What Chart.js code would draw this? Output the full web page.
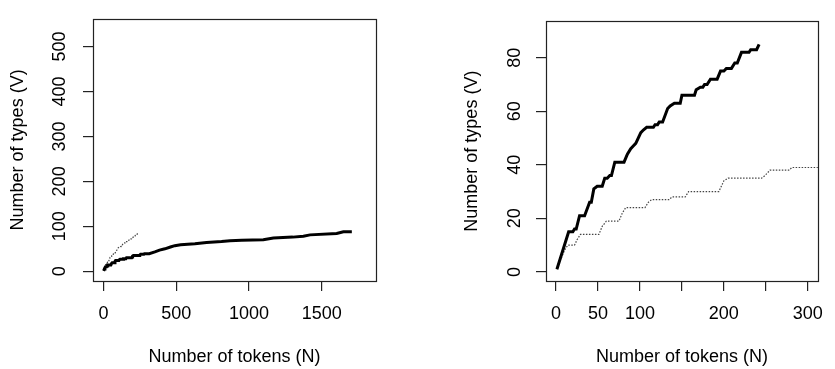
<!DOCTYPE html>
<html>
<head>
<meta charset="utf-8">
<script src="https://cdn.jsdelivr.net/npm/chart.js@4/dist/chart.umd.min.js"></script>
<style>
  html, body { margin: 0; padding: 0; background: #fff; }
  #wrap { position: relative; width: 835px; height: 369px; overflow: hidden; }
  .panel { position: absolute; top: 0; height: 369px; }
</style>
</head>
<body>
<div id="wrap">
  <div class="panel" style="left:0;width:417px"><canvas id="left" width="417" height="369"></canvas></div>
  <div class="panel" style="left:417px;width:418px"><canvas id="right" width="418" height="369"></canvas></div>
</div>
<script>
// ---- Data: type-token growth curves ----
// Text A (long text, ~1700 tokens)
const aTokens = [1, 6, 10, 14, 22, 25, 29, 51, 55, 60, 75, 79, 83, 106, 110, 114, 135, 138, 154, 158, 194, 197, 200, 205, 245, 249, 255, 278, 281, 314, 353, 385, 422, 460, 490, 530, 628, 708, 811, 869, 949, 1098, 1167, 1300, 1373, 1419, 1602, 1648, 1706];
const aTypes  = [1, 5, 8, 10, 10, 12, 14, 14, 17, 19, 19, 22, 24, 24, 26, 27, 27, 28, 28, 30, 30, 32, 34, 35, 35, 36, 38, 38, 39, 39, 43, 47, 50, 54, 57, 59, 61, 64, 66, 68, 69, 70, 74, 76, 78, 81, 84, 88, 88];
// Text B (short text, ~242 tokens)
const bTokens = [1, 15, 20, 22, 24, 28, 34, 40, 42, 45, 49, 55, 58, 61, 64, 66, 70, 81, 85, 89, 92, 95, 101, 104, 108, 116, 118, 121, 123, 127, 133, 136, 141, 148, 150, 165, 167, 172, 175, 177, 180, 184, 192, 196, 200, 203, 209, 213, 216, 221, 230, 232, 239, 242];
const bTypes  = [1, 15, 15, 16, 16, 21, 21, 26, 26, 31, 32, 32, 35, 35, 36, 36, 41, 41, 44, 46, 47, 48, 52, 53, 54, 54, 55, 55, 56, 56, 61, 62, 63, 63, 66, 66, 68, 69, 69, 70, 70, 72, 72, 75, 75, 76, 76, 78, 78, 82, 82, 83, 83, 85];

// Tick values and labels
const xTicksLeft = [0, 500, 1000, 1500];
const yTicksLeft = [0, 100, 200, 300, 400, 500];
const xTicksRight = [0, 50, 100, 150, 200, 250, 300];
const xTickLabelsRight = ['0', '50', '100', '', '200', '', '300'];
const yTicksRight = [0, 20, 40, 60, 80];

const xTitle = 'Number of tokens (N)';
const yTitle = 'Number of types (V)';

function pts(xs, ys) { return xs.map((x, i) => ({ x: x, y: ys[i] })); }

const FONT = { family: "'Liberation Sans', Arial, Helvetica, sans-serif", size: 18 };

const boxPlugin = {
  id: 'box',
  afterDraw(chart) {
    const a = chart.chartArea, ctx = chart.ctx;
    ctx.save();
    ctx.strokeStyle = '#222';
    ctx.lineWidth = 1.2;
    ctx.strokeRect(Math.round(a.left) + 0.5, Math.round(a.top) + 0.5,
                   Math.round(a.right - a.left), Math.round(a.bottom - a.top));
    ctx.restore();
  }
};

function makeChart(id, cfg) {
  const solidStyle = { borderColor: '#000', borderWidth: 3, pointRadius: 0, tension: 0, fill: false };
  const dotStyle = { borderColor: '#444', borderWidth: 1.2, borderDash: [1.5, 1.5], pointRadius: 0, tension: 0, fill: false };
  return new Chart(document.getElementById(id), {
    type: 'line',
    data: {
      datasets: [
        Object.assign({ data: cfg.solid }, solidStyle),
        Object.assign({ data: cfg.dotted }, dotStyle)
      ]
    },
    plugins: [boxPlugin],
    options: {
      responsive: false,
      animation: false,
      devicePixelRatio: 1,
      layout: { padding: { top: 9, right: cfg.padRight, left: 0, bottom: 0 } },
      plugins: { legend: { display: false }, tooltip: { enabled: false } },
      scales: {
        x: {
          type: 'linear',
          min: cfg.xMin, max: cfg.xMax,
          afterBuildTicks: s => { s.ticks = cfg.xTicks.map(v => ({ value: v })); },
          afterFit: s => { s.height = 88; },
          border: { display: false },
          grid: { display: true, drawOnChartArea: false, drawTicks: true, tickLength: 10, color: '#222', lineWidth: 1.2 },
          ticks: {
            color: '#000', font: FONT, padding: 12, maxRotation: 0, minRotation: 0, autoSkip: false,
            callback: (v, i) => cfg.xLabels ? cfg.xLabels[i] : String(v)
          },
          title: { display: true, text: xTitle, color: '#000', font: FONT, padding: { top: 0, bottom: 1 } }
        },
        y: {
          type: 'linear',
          min: cfg.yMin, max: cfg.yMax,
          afterBuildTicks: s => { s.ticks = cfg.yTicks.map(v => ({ value: v })); },
          afterFit: s => { s.width = cfg.yWidth; },
          border: { display: false },
          grid: { display: true, drawOnChartArea: false, drawTicks: true, tickLength: 10, color: '#222', lineWidth: 1.2 },
          ticks: {
            color: '#000', font: FONT, padding: cfg.yTickPad, minRotation: 90, maxRotation: 90,
            crossAlign: 'center', autoSkip: false,
            callback: v => String(v)
          },
          title: { display: true, text: yTitle, color: '#000', font: FONT, padding: { top: cfg.yTitlePad, bottom: 0 } }
        }
      }
    }
  });
}

makeChart('left', {
  solid: pts(aTokens, aTypes),
  dotted: pts(bTokens, bTypes),
  xMin: -72, xMax: 1872, yMin: -21.6, yMax: 561.6,
  xTicks: xTicksLeft, yTicks: yTicksLeft,
  padRight: 41, yWidth: 93, yTickPad: 8, yTitlePad: 7
});

makeChart('right', {
  solid: pts(bTokens, bTypes),
  dotted: pts(aTokens, aTypes),
  xMin: -12, xMax: 312, yMin: -3.4, yMax: 93.6,
  xTicks: xTicksRight, xLabels: xTickLabelsRight, yTicks: yTicksRight,
  padRight: 6, yWidth: 129, yTickPad: 10.5, yTitlePad: 44
});
</script>
</body>
</html>
